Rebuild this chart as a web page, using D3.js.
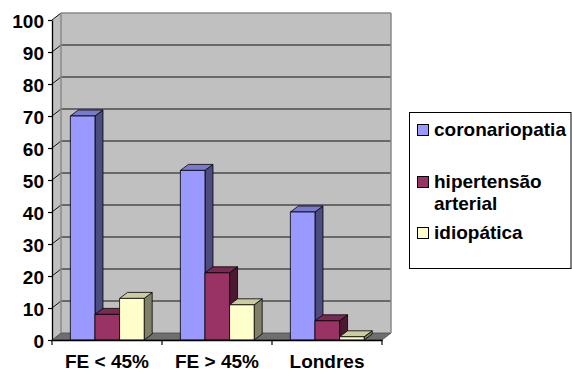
<!DOCTYPE html>
<html>
<head>
<meta charset="utf-8">
<script src="https://cdn.jsdelivr.net/npm/d3@7"></script>
<style>
  html, body { margin: 0; padding: 0; background: #fff; }
  svg { display: block; font-family: "Liberation Sans", Arial, sans-serif; font-weight: bold; }
</style>
</head>
<body>
<svg id="chart" width="572" height="372"></svg>
<script>
// Data
const categories = ["FE < 45%", "FE > 45%", "Londres"];
const seriesNames = ["coronariopatia", "hipertensão arterial", "idiopática"];
const coronariopatia = [70, 53, 40];
const hipertensao = [8, 21, 6];
const idiopatica = [13, 11, 1];
const yTicks = [0, 10, 20, 30, 40, 50, 60, 70, 80, 90, 100];

const seriesValues = [coronariopatia, hipertensao, idiopatica];
const palette = [
  { front: "#9999ff", top: "#7a7acc", side: "#4c4c80" },
  { front: "#993366", top: "#7a2952", side: "#4c1933" },
  { front: "#ffffcc", top: "#cccca3", side: "#808066" }
];

const svg = d3.select("#chart");
const fontSize = 19;

// Plot frame (front plane) and depth offsets
const plotLeft = 52, plotRight = 382, plotBottom = 340, plotTop = 20;
const wallDx = 9, wallDy = -7;   // back wall offset
const barDx = 8, barDy = -6;     // bar depth offset

const x = d3.scaleBand().domain(categories).range([plotLeft, plotRight]).padding(0);
const bw = x.bandwidth();
const xs = d3.scaleBand().domain(seriesNames).range([bw * 0.167, bw * 0.838]).padding(0);
const y = d3.scaleLinear().domain([0, 100]).range([plotBottom, plotTop]);

const wall = svg.append("g");

// Side wall (left)
wall.append("path")
  .attr("d", `M${plotLeft},${y(100)}L${plotLeft + wallDx},${y(100) + wallDy}L${plotLeft + wallDx},${y(0) + wallDy}L${plotLeft},${y(0)}Z`)
  .attr("fill", "#c0c0c0");
// Back wall
wall.append("rect")
  .attr("x", plotLeft + wallDx).attr("y", y(100) + wallDy)
  .attr("width", plotRight - plotLeft).attr("height", y(0) - y(100))
  .attr("fill", "#c0c0c0");
// Floor
wall.append("path")
  .attr("d", `M${plotLeft},${y(0)}L${plotLeft + wallDx},${y(0) + wallDy}L${plotRight + wallDx},${y(0) + wallDy}L${plotRight},${y(0)}Z`)
  .attr("fill", "#6e6e6e").attr("stroke", "#4a4a4a").attr("stroke-width", 0.8);

// Gridlines on the back and side walls
const grid = wall.append("g");
yTicks.filter(t => t > 0 && t < 100).forEach(t => {
  grid.append("line")
    .attr("x1", plotLeft + wallDx).attr("x2", plotRight + wallDx)
    .attr("y1", y(t) + wallDy).attr("y2", y(t) + wallDy)
    .attr("stroke", "#111").attr("stroke-width", 1.2);
});
yTicks.filter(t => t > 0).forEach(t => {
  grid.append("line")
    .attr("x1", plotLeft).attr("x2", plotLeft + wallDx)
    .attr("y1", y(t)).attr("y2", y(t) + wallDy)
    .attr("stroke", "#111").attr("stroke-width", 1);
});
// Wall edges
wall.append("line")
  .attr("x1", plotLeft + wallDx).attr("x2", plotRight + wallDx)
  .attr("y1", y(100) + wallDy).attr("y2", y(100) + wallDy)
  .attr("stroke", "#8a8a8a").attr("stroke-width", 1.5);
wall.append("line")
  .attr("x1", plotLeft + wallDx).attr("x2", plotLeft + wallDx)
  .attr("y1", y(100) + wallDy).attr("y2", y(0) + wallDy)
  .attr("stroke", "#8a8a8a").attr("stroke-width", 1.5);
wall.append("line")
  .attr("x1", plotRight + wallDx).attr("x2", plotRight + wallDx)
  .attr("y1", y(100) + wallDy).attr("y2", y(0) + wallDy)
  .attr("stroke", "#8a8a8a").attr("stroke-width", 1.5);

// Bars (drawn left to right so each front face overlaps the previous side face)
const bars = svg.append("g").attr("stroke", "#000").attr("stroke-width", 0.8).attr("stroke-linejoin", "round");
categories.forEach((cat, ci) => {
  seriesNames.forEach((s, si) => {
    const v = seriesValues[si][ci];
    const x0 = x(cat) + xs(s), x1 = x0 + xs.bandwidth();
    const yt = y(v), yb = y(0);
    const c = palette[si];
    const g = bars.append("g");
    g.append("path")
      .attr("d", `M${x1},${yt}L${x1 + barDx},${yt + barDy}L${x1 + barDx},${yb + barDy}L${x1},${yb}Z`)
      .attr("fill", c.side);
    g.append("path")
      .attr("d", `M${x0},${yt}L${x0 + barDx},${yt + barDy}L${x1 + barDx},${yt + barDy}L${x1},${yt}Z`)
      .attr("fill", c.top);
    g.append("rect")
      .attr("x", x0).attr("y", yt)
      .attr("width", x1 - x0).attr("height", yb - yt)
      .attr("fill", c.front);
  });
});

// Value axis
const yAxis = svg.append("g")
  .attr("transform", `translate(${plotLeft},0)`)
  .call(d3.axisLeft(y).tickValues(yTicks).tickSize(4).tickSizeOuter(0).tickPadding(4));
yAxis.attr("font-family", null).attr("font-size", null);
yAxis.select(".domain").attr("stroke", "#000").attr("stroke-width", 1.3);
yAxis.selectAll(".tick line").attr("stroke", "#000").attr("stroke-width", 1.2);
yAxis.selectAll(".tick text")
  .attr("font-size", fontSize).attr("font-weight", "bold")
  .attr("fill", "#000").attr("dy", "0.38em");

// Category axis: labels at band centres, ticks at band edges
const xAxis = svg.append("g")
  .attr("transform", `translate(0,${plotBottom})`)
  .call(d3.axisBottom(x).tickSize(0).tickSizeOuter(0).tickPadding(15));
xAxis.attr("font-family", null).attr("font-size", null);
xAxis.select(".domain").attr("stroke", "#000").attr("stroke-width", 1.3);
xAxis.selectAll(".tick text")
  .attr("font-size", fontSize).attr("font-weight", "bold").attr("fill", "#000")
  .attr("dy", "0.71em");
const edges = categories.map(c => x(c)).concat([x(categories[categories.length - 1]) + bw]);
xAxis.selectAll(".edge").data(edges).join("line")
  .attr("class", "edge")
  .attr("x1", d => d).attr("x2", d => d)
  .attr("y1", 0).attr("y2", 5)
  .attr("stroke", "#000").attr("stroke-width", 1.2);

// Legend
const legend = svg.append("g");
legend.append("rect")
  .attr("x", 409.5).attr("y", 112.5).attr("width", 161.5).attr("height", 156)
  .attr("fill", "#fff").attr("stroke", "#000").attr("stroke-width", 1);
const legendItems = [
  { lines: ["coronariopatia"], base: 136 },
  { lines: ["hipertensão", "arterial"], base: 188 },
  { lines: ["idiopática"], base: 239 }
];
legendItems.forEach((it, i) => {
  legend.append("rect")
    .attr("x", 417.5).attr("y", it.base - 11.5).attr("width", 11).attr("height", 11)
    .attr("fill", palette[i].front).attr("stroke", "#000").attr("stroke-width", 1);
  it.lines.forEach((ln, li) => {
    legend.append("text")
      .attr("x", 434).attr("y", it.base + li * 22)
      .attr("font-size", fontSize).attr("font-weight", "bold")
      .text(ln);
  });
});
</script>
</body>
</html>
